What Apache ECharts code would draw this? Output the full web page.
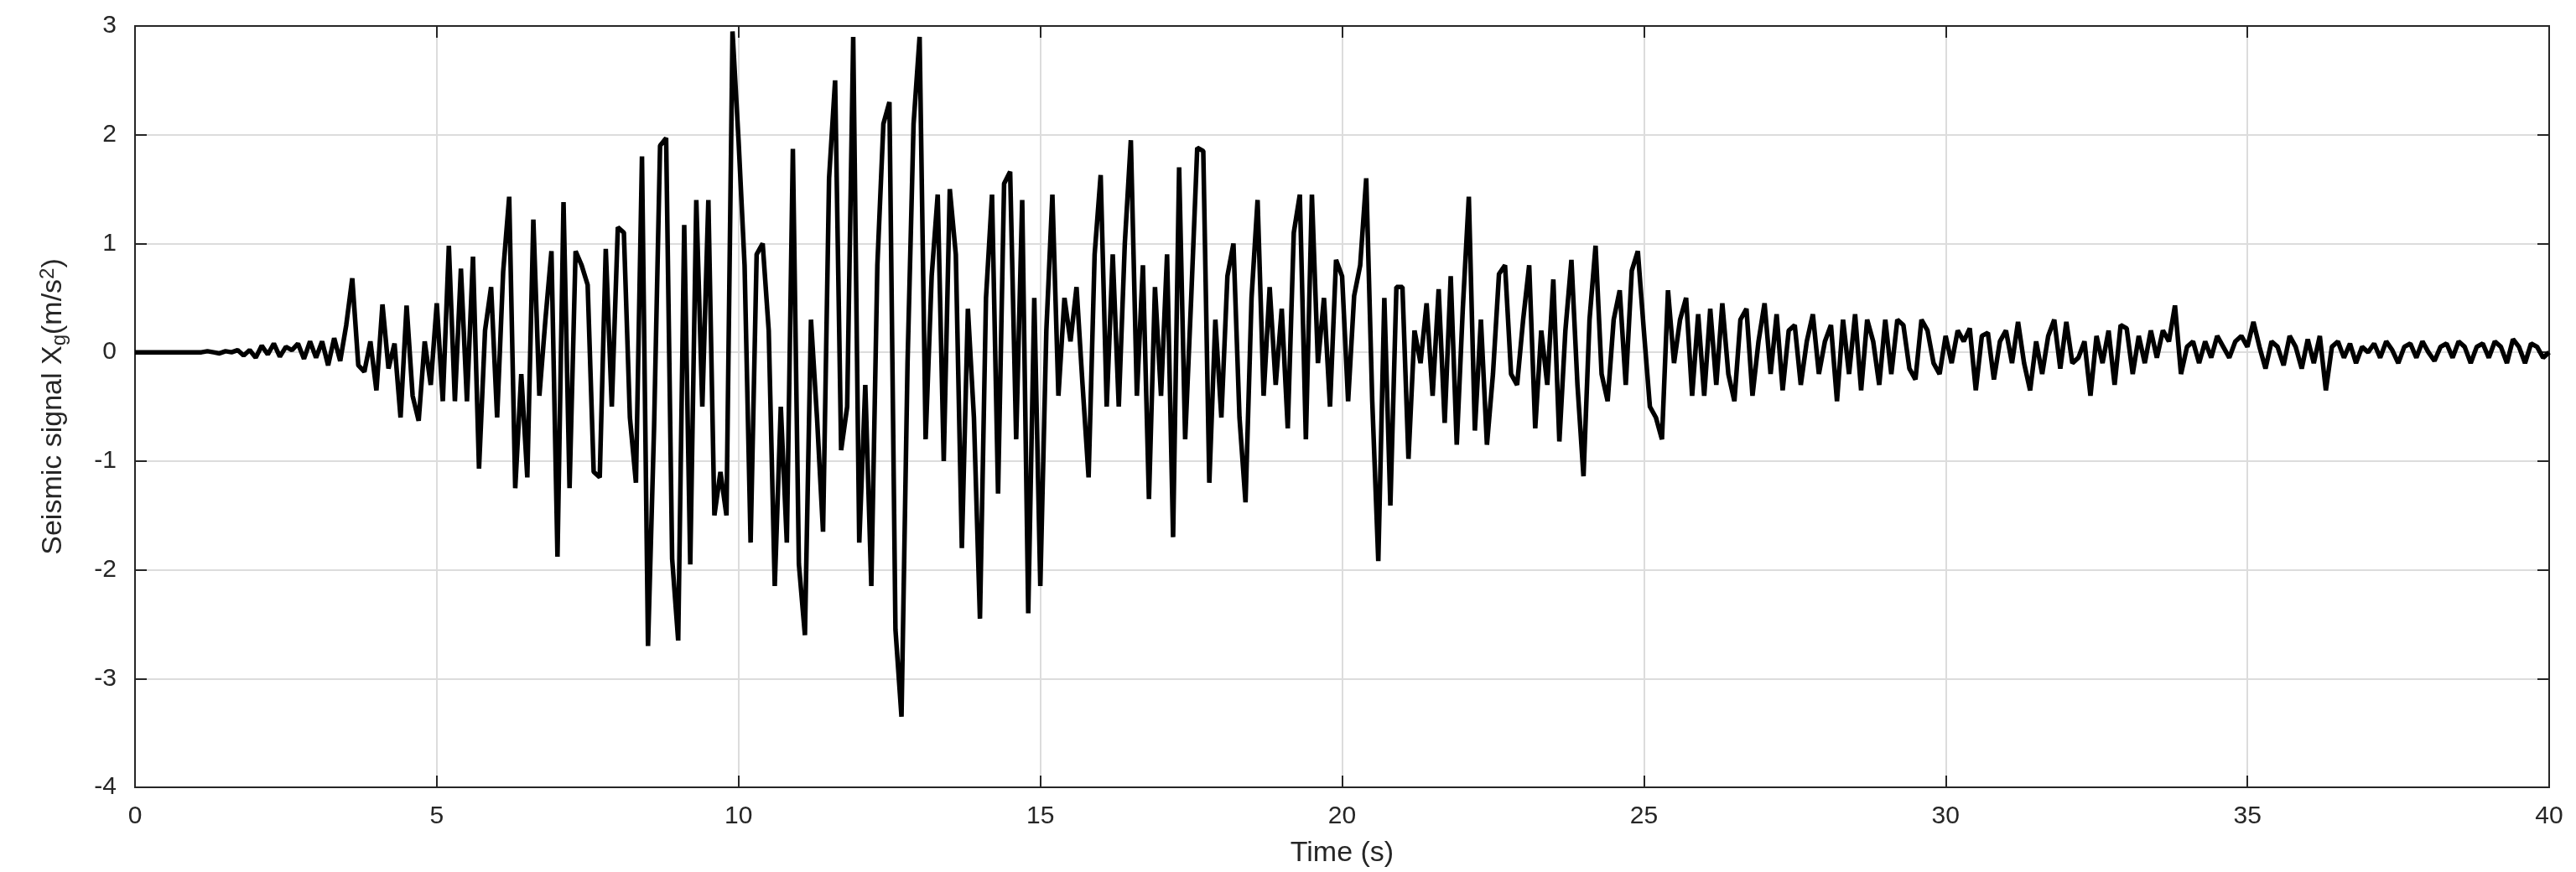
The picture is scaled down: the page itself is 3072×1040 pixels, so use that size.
<!DOCTYPE html>
<html>
<head>
<meta charset="utf-8">
<script src="https://cdn.jsdelivr.net/npm/echarts@6/dist/echarts.min.js"></script>
<style>html,body{margin:0;padding:0;background:#fff}#chart{width:3072px;height:1040px}</style>
</head>
<body>
<div id="chart"></div>
<script>
// sample step of the record (s)
var dt = 0.1;
// acceleration, one row per second
var signal = [
  0,0,0,0,0,0,0,0,0,0,
  0,0,0.01,0,-0.01,0.01,0,0.02,-0.03,0.02,
  -0.05,0.06,-0.02,0.08,-0.04,0.05,0.02,0.08,-0.06,0.1,
  -0.05,0.1,-0.12,0.13,-0.08,0.25,0.68,-0.12,-0.18,0.1,
  -0.35,0.44,-0.15,0.08,-0.6,0.43,-0.4,-0.63,0.1,-0.3,
  0.45,-0.45,0.98,-0.45,0.77,-0.45,0.88,-1.07,0.2,0.6,
  -0.6,0.74,1.43,-1.25,-0.2,-1.15,1.22,-0.4,0.3,0.93,
  -1.88,1.38,-1.25,0.93,0.8,0.62,-1.1,-1.15,0.95,-0.5,
  1.15,1.1,-0.6,-1.2,1.8,-2.7,-0.7,1.9,1.97,-1.9,
  -2.65,1.17,-1.95,1.4,-0.5,1.4,-1.5,-1.1,-1.5,2.95,
  1.95,0.8,-1.75,0.9,1.0,0.2,-2.15,-0.5,-1.75,1.87,
  -1.95,-2.6,0.3,-0.6,-1.65,1.6,2.5,-0.9,-0.5,2.9,
  -1.75,-0.3,-2.15,0.8,2.1,2.3,-2.55,-3.35,-0.1,2.1,
  2.9,-0.8,0.7,1.45,-1.0,1.5,0.9,-1.8,0.4,-0.6,
  -2.45,0.5,1.45,-1.3,1.55,1.66,-0.8,1.4,-2.4,0.5,
  -2.15,0.2,1.45,-0.4,0.5,0.1,0.6,-0.3,-1.15,0.9,
  1.63,-0.5,0.9,-0.5,1.0,1.95,-0.4,0.8,-1.35,0.6,
  -0.4,0.9,-1.7,1.7,-0.8,0.5,1.88,1.85,-1.2,0.3,
  -0.6,0.7,1.0,-0.6,-1.38,0.5,1.4,-0.4,0.6,-0.3,
  0.4,-0.7,1.1,1.45,-0.8,1.45,-0.1,0.5,-0.5,0.85,
  0.7,-0.45,0.52,0.8,1.6,-0.45,-1.92,0.5,-1.41,0.6,
  0.6,-0.98,0.2,-0.1,0.45,-0.4,0.58,-0.65,0.7,-0.85,
  0.4,1.43,-0.72,0.3,-0.85,-0.2,0.72,0.8,-0.2,-0.3,
  0.3,0.8,-0.7,0.2,-0.3,0.67,-0.82,0.2,0.85,-0.3,
  -1.14,0.3,0.98,-0.2,-0.45,0.3,0.57,-0.3,0.75,0.93,
  0.2,-0.5,-0.6,-0.8,0.57,-0.1,0.3,0.5,-0.4,0.35,
  -0.4,0.4,-0.3,0.45,-0.2,-0.45,0.3,0.4,-0.4,0.1,
  0.45,-0.2,0.35,-0.35,0.2,0.25,-0.3,0.1,0.35,-0.2,
  0.1,0.25,-0.45,0.3,-0.2,0.35,-0.35,0.3,0.1,-0.3,
  0.3,-0.2,0.3,0.25,-0.15,-0.25,0.3,0.2,-0.1,-0.2,
  0.15,-0.1,0.2,0.1,0.22,-0.35,0.15,0.18,-0.25,0.1,
  0.2,-0.1,0.28,-0.1,-0.35,0.1,-0.2,0.15,0.3,-0.15,
  0.28,-0.1,-0.05,0.1,-0.4,0.15,-0.1,0.2,-0.3,0.25,
  0.22,-0.2,0.15,-0.1,0.2,-0.05,0.2,0.1,0.43,-0.2,
  0.05,0.1,-0.1,0.1,-0.05,0.15,0.05,-0.05,0.1,0.15,
  0.05,0.28,0.05,-0.15,0.1,0.05,-0.12,0.15,0.05,-0.15,
  0.12,-0.1,0.15,-0.35,0.05,0.1,-0.05,0.08,-0.1,0.05,
  0.0,0.08,-0.05,0.1,0.02,-0.1,0.05,0.08,-0.05,0.1,
  0.0,-0.08,0.05,0.08,-0.05,0.1,0.05,-0.1,0.05,0.08,
  -0.05,0.1,0.05,-0.1,0.12,0.05,-0.1,0.08,0.05,-0.05,
  0.0
];

var points = signal.map(function (v, i) { return [+(i * dt).toFixed(2), v]; });

var chart = echarts.init(document.getElementById('chart'));
var txt = '#262626';
var tick = { show: true, inside: true, length: 14, lineStyle: { color: txt, width: 2 } };
var option = {
  animation: false,
  grid: { left: 161, right: 32, top: 31, bottom: 90, show: true, borderColor: txt, borderWidth: 2 },
  xAxis: [{
    type: 'value', min: 0, max: 40, interval: 5,
    name: 'Time (s)', nameLocation: 'middle', nameGap: 62,
    nameTextStyle: { fontFamily: 'Liberation Sans', fontSize: 34, color: txt },
    axisLine: { onZero: false, lineStyle: { color: txt, width: 2 } },
    axisTick: tick,
    axisLabel: { fontFamily: 'Liberation Sans', fontSize: 30, color: txt, margin: 20 },
    splitLine: { show: true, lineStyle: { color: '#dcdcdc', width: 2 } }
  }, {
    type: 'value', min: 0, max: 40, interval: 5, position: 'top',
    axisLine: { onZero: false, lineStyle: { color: txt, width: 2 } },
    axisTick: tick, axisLabel: { show: false }, splitLine: { show: false }
  }],
  yAxis: [{
    type: 'value', min: -4, max: 3, interval: 1,
    name: '{a|Seismic signal X}{s|g}{a|(m/s}{p|2}{a|)}', nameLocation: 'middle', nameGap: 78,
    nameTextStyle: {
      rich: {
        a: { fontFamily: 'Liberation Sans', fontSize: 34, color: txt },
        s: { fontFamily: 'Liberation Sans', fontSize: 24, color: txt, verticalAlign: 'bottom', padding: [14, 0, 0, 0] },
        p: { fontFamily: 'Liberation Sans', fontSize: 24, color: txt, verticalAlign: 'top', padding: [0, 0, 14, 0] }
      }
    },
    axisLine: { show: true, onZero: false, lineStyle: { color: txt, width: 2 } },
    axisTick: tick,
    axisLabel: { fontFamily: 'Liberation Sans', fontSize: 30, color: txt, margin: 22 },
    splitLine: { show: true, lineStyle: { color: '#dcdcdc', width: 2 } }
  }, {
    type: 'value', min: -4, max: 3, interval: 1, position: 'right',
    axisLine: { show: true, onZero: false, lineStyle: { color: txt, width: 2 } },
    axisTick: tick, axisLabel: { show: false }, splitLine: { show: false }
  }],
  series: [{
    type: 'line',
    data: points,
    showSymbol: false,
    lineStyle: { color: '#000', width: 5.5 }
  }]
};
chart.setOption(option);
</script>
</body>
</html>
